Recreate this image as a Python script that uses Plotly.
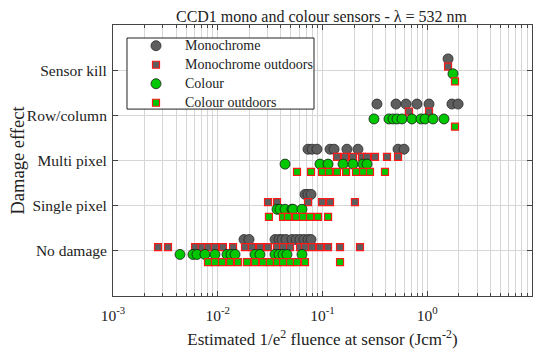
import plotly.graph_objects as go

categories = ["No damage", "Single pixel", "Multi pixel", "Row/column", "Sensor kill"]
x_tick_vals = [0.001, 0.01, 0.1, 1, 10]
x_tick_text = ["10<sup>-3</sup>", "10<sup>-2</sup>", "10<sup>-1</sup>", "10<sup>0</sup>", "10<sup>1</sup>"]

# Monochrome (circles)
mono_nodamage = [0.0178, 0.0199, 0.0352, 0.0385, 0.0411, 0.0448, 0.0511, 0.0559, 0.061, 0.0666, 0.0727, 0.0777]
mono_single = [0.0681, 0.0727, 0.0777]
mono_multi = [0.0727, 0.0794, 0.0886, 0.118, 0.129, 0.171, 0.218, 0.526, 0.60]
mono_rowcol = [0.331, 0.503, 0.627, 0.798, 1.04, 1.72, 1.97]
mono_kill = [1.58]

# Monochrome outdoors (squares)
monoout_nodamage = [0.00269, 0.00335, 0.00607, 0.00703, 0.00807, 0.00941, 0.0112, 0.014, 0.0182, 0.0212,
                    0.0253, 0.0302, 0.0368, 0.042, 0.049, 0.061, 0.0681, 0.0794, 0.0946, 0.113, 0.147, 0.228]
monoout_single = [0.0302, 0.0368, 0.0727, 0.0989, 0.118, 0.204]
monoout_multi = [0.1375, 0.164, 0.1955, 0.238, 0.266, 0.317, 0.413, 0.526]
monoout_rowcol = [0.67, 1.04]
monoout_kill = [1.58]

# Colour (circles)
col_nodamage = [0.00436, 0.0058, 0.00634, 0.00755, 0.00941, 0.01225, 0.01338, 0.01461, 0.0227, 0.0253,
                0.0352, 0.0385, 0.042, 0.0458, 0.0637]
col_single = [0.0368, 0.0393, 0.0439, 0.0511, 0.0523, 0.0637]
col_multi = [0.0439, 0.0946, 0.113, 0.157, 0.1955, 0.244, 0.266]
col_rowcol = [0.31, 0.431, 0.471, 0.514, 0.574, 0.715, 0.871, 0.952, 1.135, 1.445]
col_kill = [1.76]

# Colour outdoors (squares)
colout_nodamage = [0.00807, 0.00941, 0.011, 0.0131, 0.0156, 0.019, 0.0227, 0.027, 0.0315, 0.0368,
                   0.042, 0.049, 0.0571, 0.0681, 0.147]
colout_single = [0.0308, 0.042, 0.0468, 0.0559, 0.0651, 0.076, 0.0906, 0.113]
colout_multi = [0.0571, 0.0777, 0.0989, 0.1153, 0.1375, 0.168, 0.209, 0.244, 0.284, 0.395]
colout_rowcol = [1.84]
colout_kill = [1.84]

series = [
    ("Monochrome", [mono_nodamage, mono_single, mono_multi, mono_rowcol, mono_kill], 0.25,
     dict(symbol="circle", size=10, color="#5e5e5e", line=dict(color="#2a2a2a", width=0.8))),
    ("Monochrome outdoors", [monoout_nodamage, monoout_single, monoout_multi, monoout_rowcol, monoout_kill], 0.08,
     dict(symbol="square", size=7, color="#5e5e5e", line=dict(color="#ff1a1a", width=1.2))),
    ("Colour", [col_nodamage, col_single, col_multi, col_rowcol, col_kill], -0.08,
     dict(symbol="circle", size=10, color="#00c800", line=dict(color="#1a1a1a", width=0.8))),
    ("Colour outdoors", [colout_nodamage, colout_single, colout_multi, colout_rowcol, colout_kill], -0.25,
     dict(symbol="square", size=7, color="#00c800", line=dict(color="#ff1a1a", width=1.2))),
]

fig = go.Figure()
for name, groups, off, mk in series:
    xs, ys = [], []
    for i, vals in enumerate(groups):
        xs += vals
        ys += [i + 1 + off] * len(vals)
    fig.add_trace(go.Scatter(x=xs, y=ys, mode="markers",
                             name='<span style="font-size:14px">' + name + '</span>', marker=mk))

# legend frame
fig.add_shape(type="rect", xref="paper", yref="paper", x0=0.0334, x1=0.4797, y0=0.6897, y1=0.952,
              line=dict(color="#222", width=1), fillcolor="white", layer="above")

font_fam = "Liberation Serif, Times New Roman, serif"
fig.update_layout(
    width=534, height=341,
    margin=dict(l=105, r=10, t=17, b=53.3),
    paper_bgcolor="white", plot_bgcolor="white",
    font=dict(family=font_fam, size=15.5, color="#222"),
    title=dict(text="CCD1 mono and colour sensors - \u03bb = 532 nm", x=0.587, xanchor="center",
               y=0.974, yanchor="middle", font=dict(size=16)),
    legend=dict(x=0.0334, y=0.977, xanchor="left", yanchor="top", bgcolor="rgba(0,0,0,0)",
                borderwidth=0, font=dict(size=12), itemwidth=48, tracegroupgap=0),
    xaxis=dict(type="log", range=[-3, 1], tickmode="array", tickvals=x_tick_vals, ticktext=x_tick_text,
               automargin=False, ticklabelstandoff=5,
               showgrid=True, gridcolor="#d6d6d6", gridwidth=1,
               ticks="inside", ticklen=5, tickcolor="#444", showline=True, linecolor="#444",
               linewidth=1, mirror="allticks", zeroline=False,
               minor=dict(dtick="D1", showgrid=True, gridcolor="#d6d6d6", gridwidth=1,
                          ticks="inside", ticklen=3, tickcolor="#444"),
               title=dict(text="Estimated 1/e<sup>2</sup> fluence at sensor (Jcm<sup>-2</sup>)",
                          standoff=12, font=dict(size=17))),
    yaxis=dict(range=[0, 6], tickmode="array", tickvals=[1, 2, 3, 4, 5], ticktext=categories,
               automargin=False, ticklabelstandoff=2,
               showgrid=True, gridcolor="#d6d6d6", gridwidth=1,
               ticks="inside", ticklen=5, tickcolor="#444", showline=True, linecolor="#444",
               linewidth=1, mirror="allticks", zeroline=False,
               title=dict(text="Damage effect", standoff=5, font=dict(size=18.5))),
)

fig.write_html("out.html")
